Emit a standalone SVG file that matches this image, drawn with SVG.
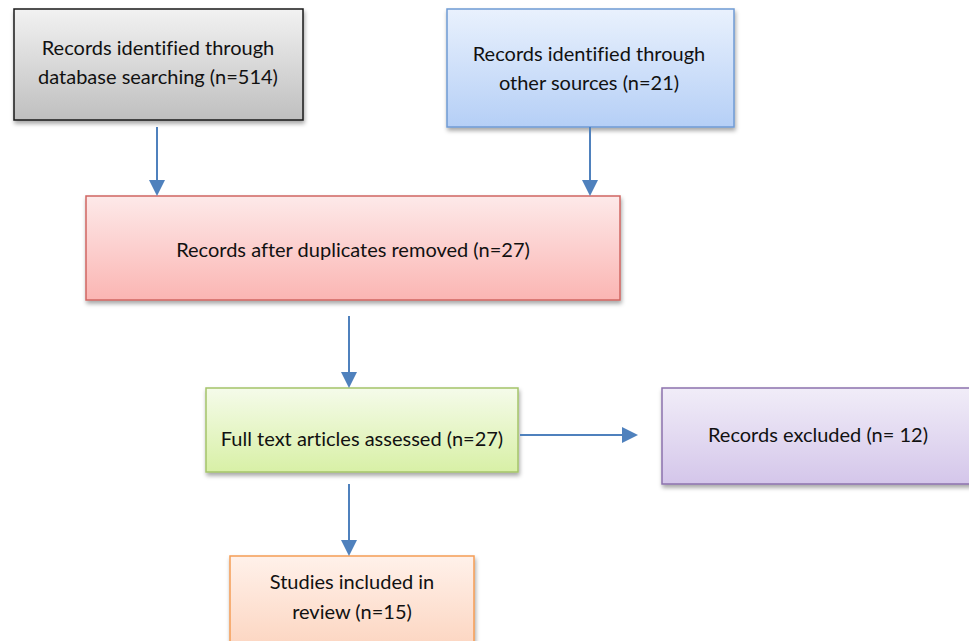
<svg xmlns="http://www.w3.org/2000/svg" width="969" height="641" viewBox="0 0 969 641">
<defs>
<filter id="sh" x="-10%" y="-10%" width="130%" height="140%">
<feDropShadow dx="1" dy="3" stdDeviation="2" flood-color="#000" flood-opacity="0.35"/>
</filter>
<linearGradient id="gGray" x1="0" y1="0" x2="0" y2="1"><stop offset="0" stop-color="#f2f2f2"/><stop offset="1" stop-color="#bfbfbf"/></linearGradient>
<linearGradient id="gBlue" x1="0" y1="0" x2="0" y2="1"><stop offset="0" stop-color="#e9f1fd"/><stop offset="1" stop-color="#b5cff6"/></linearGradient>
<linearGradient id="gRed" x1="0" y1="0" x2="0" y2="1"><stop offset="0" stop-color="#fde9e9"/><stop offset="1" stop-color="#fbb5b3"/></linearGradient>
<linearGradient id="gGreen" x1="0" y1="0" x2="0" y2="1"><stop offset="0" stop-color="#f5fbea"/><stop offset="1" stop-color="#d8f0a6"/></linearGradient>
<linearGradient id="gPurple" x1="0" y1="0" x2="0" y2="1"><stop offset="0" stop-color="#f1edf8"/><stop offset="1" stop-color="#d4c6ea"/></linearGradient>
<linearGradient id="gOrange" x1="0" y1="0" x2="0" y2="1"><stop offset="0" stop-color="#fff1ea"/><stop offset="1" stop-color="#fcd3bd"/></linearGradient>
<marker id="ah" markerWidth="8" markerHeight="8" refX="7" refY="4" orient="auto" markerUnits="strokeWidth">
<path d="M0,0 L8,4 L0,8 Z" fill="#4f81bd"/>
</marker>
</defs>
<style>
text{font-family:Lato,"Liberation Sans",sans-serif;font-size:20px;fill:#111;text-anchor:middle;font-variant-ligatures:none}
.box{stroke-width:1.5;filter:url(#sh)}
.conn line{stroke:#4f81bd;stroke-width:2;marker-end:url(#ah)}
</style>
<g id="n1"><rect class="box" x="14" y="9" width="289" height="111" fill="url(#gGray)" stroke="#1a1a1a"/>
<text x="158" y="55">Records identified through</text><text x="158" y="84">database searching (n=514)</text></g>
<g id="n2"><rect class="box" x="447" y="9" width="287" height="118" fill="url(#gBlue)" stroke="#6f9ad4"/>
<text x="589" y="61">Records identified through</text><text x="589" y="90">other sources (n=21)</text></g>
<g id="n3"><rect class="box" x="86" y="196" width="534" height="104" fill="url(#gRed)" stroke="#d06662"/>
<text x="353" y="257">Records after duplicates removed (n=27)</text></g>
<g id="n4"><rect class="box" x="206" y="388" width="312" height="84" fill="url(#gGreen)" stroke="#a4c46a"/>
<text x="362" y="446">Full text articles assessed (n=27)</text></g>
<g id="n5"><rect class="box" x="662" y="388" width="312" height="96" fill="url(#gPurple)" stroke="#8c72ad"/>
<text x="818" y="442">Records excluded (n= 12)</text></g>
<g id="n6"><rect class="box" x="230" y="556" width="244" height="100" fill="url(#gOrange)" stroke="#f59d55"/>
<text x="352" y="589">Studies included in</text><text x="352" y="619">review (n=15)</text></g>
<g class="conn" id="connectors">
<line x1="157" y1="127" x2="157" y2="194"/>
<line x1="590" y1="127" x2="590" y2="194"/>
<line x1="349" y1="316" x2="349" y2="386"/>
<line x1="520" y1="435" x2="636" y2="435"/>
<line x1="349" y1="484" x2="349" y2="554"/>
</g>
</svg>
